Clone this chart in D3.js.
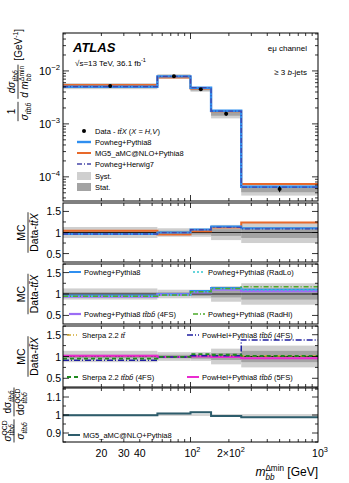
<!DOCTYPE html>
<html>
<head>
<meta charset="utf-8">
<script src="https://cdn.jsdelivr.net/npm/d3@7"></script>
<style>
body { margin: 0; background: #fff; }
text { font-family: "Liberation Sans", Arial, sans-serif; fill: #000; white-space: pre; }
</style>
</head>
<body>
<svg width="349" height="483"></svg>
<script>

// Binning and measured data
var binEdges = [10, 55, 100, 145, 250, 1000];
var dataVals = [5.2e-3, 7.9e-3, 4.5e-3, 1.55e-3, 5.9e-5];
var systRel  = [0.13, 0.10, 0.10, 0.18, 0.25];
var statRel  = [0.04, 0.04, 0.05, 0.08, 0.13];

// Main panel predictions
var powPy8Main = [5.02e-3, 7.9e-3, 4.82e-3, 1.77e-3, 6.5e-5];
var mg5Main    = [5.41e-3, 7.54e-3, 4.64e-3, 1.74e-3, 7.32e-5];
var powHw7Main = [5.04e-3, 7.86e-3, 4.82e-3, 1.74e-3, 6.4e-5];

// Ratio panel 1
var rPowPy8 = [0.965, 1.0, 1.07, 1.14, 1.10];
var rMg5    = [1.04, 0.955, 1.03, 1.12, 1.24];
var rPowHw7 = [0.965, 0.995, 1.065, 1.12, 1.085];

// Ratio panel 2
var rRadLo   = [0.95, 0.975, 1.05, 1.12, 1.095];
var rTtbb4fs = [0.937, 0.985, 1.04, 1.10, 1.065];
var rRadHi   = [0.95, 0.975, 1.055, 1.13, 1.17];

// Ratio panel 3
var rSherpaTt   = [1.01, 0.99, 1.02, 1.02, 1.01];
var rPowHel4fs  = [0.913, 0.99, 1.02, 1.02, 1.38];
var rSherpaTtbb = [0.95, 0.99, 1.055, 1.04, 1.015];
var rPowHel5fs  = [1.015, 0.99, 1.0, 0.99, 0.96];

// QCD-only ratio panel
var rQcd = [0.998, 1.008, 1.015, 0.994, 0.988];

var xTickLabels = [[20, "20"], [30, "30"], [40, "40"]];

var svg = d3.select("svg");
var L = 63, R = 318;
var x = d3.scaleLog().domain([10, 1000]).range([L, R]);

var panels = [
  {top: 33, bottom: 201},
  {top: 203, bottom: 262, dom: [0.3, 1.7]},
  {top: 264, bottom: 324, dom: [0.3, 1.7]},
  {top: 326, bottom: 387, dom: [0.3, 1.7]},
  {top: 388, bottom: 442, dom: [0.85, 1.15]}
];
var yMain = d3.scaleLog().domain([3.5e-5, 0.052]).range([panels[0].bottom, panels[0].top]);
panels.forEach(function(p, i) {
  p.y = i == 0 ? yMain : d3.scaleLinear().domain(p.dom).range([p.bottom, p.top]);
});

var cSyst = "#cfcfcf", cStat = "#a3a3a3";
var cBlue = "#2f8ff0", cOrange = "#e8692a", cHw = "#4545a8";

// helpers for text with sub/superscripts
function rich(parent, parts, fs) {
  var g = parent.append("g");
  var cx = 0, lastStart = 0;
  parts.forEach(function(p) {
    var start = p.stack ? lastStart : cx;
    var t = g.append("text")
      .attr("x", start).attr("y", p.dy || 0)
      .attr("font-size", (p.fs || 1) * fs)
      .attr("font-style", p.it ? "italic" : null)
      .attr("font-weight", p.b ? "bold" : null)
      .text(p.t);
    var w = t.node().getComputedTextLength();
    if (p.stack) cx = Math.max(cx, start + w);
    else { lastStart = start; cx = start + w; }
  });
  return {g: g, w: cx};
}
function place(r, px, py, anchor) {
  var off = anchor == "middle" ? -r.w / 2 : anchor == "end" ? -r.w : 0;
  r.g.attr("transform", "translate(" + (px + off) + "," + py + ")");
}
function frac(g, x0, num, den, fs, up, down) {
  var n = rich(g, num, fs), d = rich(g, den, fs);
  var w = Math.max(n.w, d.w) + 2;
  place(n, x0 + w / 2, -up, "middle");
  place(d, x0 + w / 2, down, "middle");
  g.append("line").attr("x1", x0).attr("x2", x0 + w).attr("y1", 0).attr("y2", 0)
    .attr("stroke", "#000").attr("stroke-width", 0.8);
  return w;
}
var sub = function(t, it) { return {t: t, fs: 0.68, dy: 3, it: it}; };
var sup = function(t) { return {t: t, fs: 0.68, dy: -4.5}; };
var TTBB = "tt\u0304bb\u0304";

function stepPts(vals) {
  var pts = vals.map(function(v, i) { return [binEdges[i], v]; });
  pts.push([binEdges[vals.length], vals[vals.length - 1]]);
  return pts;
}
function drawStep(p, vals, color, width, dash) {
  var line = d3.line().x(function(d) { return x(d[0]); }).y(function(d) { return p.y(d[1]); })
    .curve(d3.curveStepAfter);
  svg.append("path").datum(stepPts(vals)).attr("d", line)
    .attr("fill", "none").attr("stroke", color).attr("stroke-width", width)
    .attr("stroke-dasharray", dash || null);
}
function drawBands(p, center, rels, color) {
  svg.append("g").selectAll("rect").data(rels).enter().append("rect")
    .attr("x", function(d, i) { return x(binEdges[i]); })
    .attr("width", function(d, i) { return x(binEdges[i + 1]) - x(binEdges[i]); })
    .attr("y", function(d, i) { return p.y(center[i] * (1 + d)); })
    .attr("height", function(d, i) { return p.y(center[i] * (1 - d)) - p.y(center[i] * (1 + d)); })
    .attr("fill", color);
}
var ones = binEdges.slice(1).map(function() { return 1; });

function drawFrame(p, yMaj, yMin, xMajLen, xMinLen) {
  var g = svg.append("g").attr("stroke", "#000").attr("stroke-width", 0.8);
  var xMinors = [20, 30, 40, 50, 60, 70, 80, 90, 200, 300, 400, 500, 600, 700, 800, 900];
  xMinors.forEach(function(v) {
    g.append("line").attr("x1", x(v)).attr("x2", x(v)).attr("y1", p.bottom).attr("y2", p.bottom - xMinLen);
    g.append("line").attr("x1", x(v)).attr("x2", x(v)).attr("y1", p.top).attr("y2", p.top + xMinLen);
  });
  [100].forEach(function(v) {
    g.append("line").attr("x1", x(v)).attr("x2", x(v)).attr("y1", p.bottom).attr("y2", p.bottom - xMajLen);
    g.append("line").attr("x1", x(v)).attr("x2", x(v)).attr("y1", p.top).attr("y2", p.top + xMajLen);
  });
  yMaj.forEach(function(v) {
    g.append("line").attr("x1", L).attr("x2", L + 6).attr("y1", p.y(v)).attr("y2", p.y(v));
    g.append("line").attr("x1", R).attr("x2", R - 6).attr("y1", p.y(v)).attr("y2", p.y(v));
  });
  yMin.forEach(function(v) {
    g.append("line").attr("x1", L).attr("x2", L + 3).attr("y1", p.y(v)).attr("y2", p.y(v));
    g.append("line").attr("x1", R).attr("x2", R - 3).attr("y1", p.y(v)).attr("y2", p.y(v));
  });
  svg.append("rect").attr("x", L).attr("y", p.top).attr("width", R - L).attr("height", p.bottom - p.top)
    .attr("fill", "none").attr("stroke", "#000").attr("stroke-width", 1);
}

// ---------- main panel ----------
var P0 = panels[0];
drawBands(P0, dataVals, systRel, cSyst);
drawBands(P0, dataVals, statRel, cStat);
drawStep(P0, mg5Main, cOrange, 2);
drawStep(P0, powPy8Main, cBlue, 2.4);
drawStep(P0, powHw7Main, cHw, 1.3, "5,2,1,2");
svg.append("g").selectAll("line").data(dataVals).enter().append("line")
  .attr("x1", function(d, i) { return x(Math.sqrt(binEdges[i] * binEdges[i + 1])); })
  .attr("x2", function(d, i) { return x(Math.sqrt(binEdges[i] * binEdges[i + 1])); })
  .attr("y1", function(d, i) { return yMain(d * (1 - statRel[i])); })
  .attr("y2", function(d, i) { return yMain(d * (1 + statRel[i])); })
  .attr("stroke", "#000").attr("stroke-width", 1);
svg.append("g").selectAll("circle").data(dataVals).enter().append("circle")
  .attr("cx", function(d, i) { return x(Math.sqrt(binEdges[i] * binEdges[i + 1])); })
  .attr("cy", function(d) { return yMain(d); })
  .attr("r", 2).attr("fill", "#000");

var mainMinor = [];
[-5, -4, -3, -2].forEach(function(e) {
  for (var k = 2; k <= 9; k++) {
    var v = k * Math.pow(10, e);
    if (v > 3.5e-5 && v < 0.052) mainMinor.push(v);
  }
});
drawFrame(P0, [1e-4, 1e-3, 1e-2], mainMinor, 6, 3);
[[1e-2, "\u22122"], [1e-3, "\u22123"], [1e-4, "\u22124"]].forEach(function(t) {
  var r = rich(svg, [{t: "10"}, {t: t[1], fs: 0.7, dy: -5}], 11);
  place(r, 60, yMain(t[0]) + 4, "end");
});

// labels inside main panel
place(rich(svg, [{t: "ATLAS", b: true, it: true}], 13), 73, 52, "start");
place(rich(svg, [{t: "\u221As=13 TeV, 36.1 fb"}, {t: "-1", fs: 0.7, dy: -4}], 8), 75, 66, "start");
place(rich(svg, [{t: "e\u03BC channel"}], 8), 307, 51, "end");
place(rich(svg, [{t: "\u2265 3 "}, {t: "b", it: true}, {t: "-jets"}], 8), 307, 75, "end");

// main legend
var lgY = [131, 142, 153, 164, 176, 187];
svg.append("circle").attr("cx", 84).attr("cy", lgY[0]).attr("r", 2).attr("fill", "#000");
place(rich(svg, [{t: "Data - "}, {t: "tt\u0304X", it: true}, {t: " ("}, {t: "X", it: true}, {t: " = "}, {t: "H,V", it: true}, {t: ")"}], 7.5), 95, lgY[0] + 3, "start");
[[cBlue, 2.4, null, "Powheg+Pythia8"], [cOrange, 2, null, "MG5_aMC@NLO+Pythia8"], [cHw, 1.3, "5,2,1,2", "Powheg+Herwig7"]]
  .forEach(function(e, i) {
    svg.append("line").attr("x1", 77).attr("x2", 91).attr("y1", lgY[i + 1]).attr("y2", lgY[i + 1])
      .attr("stroke", e[0]).attr("stroke-width", e[1]).attr("stroke-dasharray", e[2]);
    place(rich(svg, [{t: e[3]}], 7.5), 95, lgY[i + 1] + 3, "start");
  });
[[cSyst, "Syst."], [cStat, "Stat."]].forEach(function(e, i) {
  svg.append("rect").attr("x", 77).attr("y", lgY[i + 4] - 4).attr("width", 14).attr("height", 8).attr("fill", e[0]);
  place(rich(svg, [{t: e[1]}], 7.5), 95, lgY[i + 4] + 3, "start");
});

// ---------- ratio panels ----------
var ratioMaj = [0.5, 1, 1.5], ratioMin = [0.25, 0.75, 1.25];
function ratioBase(p) {
  drawBands(p, ones, systRel, cSyst);
  drawBands(p, ones, statRel, cStat);
  svg.append("line").attr("x1", L).attr("x2", R).attr("y1", p.y(1)).attr("y2", p.y(1))
    .attr("stroke", "#000").attr("stroke-width", 0.8);
}
function ratioLabels(p, ticks) {
  ticks.forEach(function(t) {
    place(rich(svg, [{t: t}], 10.5), 61, p.y(+t) + 4, "end");
  });
}
function legendEntry(p, x0, yy, color, w, dash, parts) {
  svg.append("line").attr("x1", x0).attr("x2", x0 + 12).attr("y1", yy).attr("y2", yy)
    .attr("stroke", color).attr("stroke-width", w).attr("stroke-dasharray", dash);
  place(rich(svg, parts, 7.5), x0 + 15, yy + 3, "start");
}

var P1 = panels[1];
ratioBase(P1);
drawStep(P1, rMg5, cOrange, 2);
drawStep(P1, rPowPy8, cBlue, 2);
drawStep(P1, rPowHw7, cHw, 1.3, "5,2,1,2");
drawFrame(P1, ratioMaj, ratioMin, 5, 3);
ratioLabels(P1, ["0.5", "1", "1.5"]);

var P2 = panels[2];
ratioBase(P2);
drawStep(P2, rPowPy8, cBlue, 2);
drawStep(P2, rTtbb4fs, "#9b6cf5", 2.2);
drawStep(P2, rRadLo, "#35c8cf", 1.5, "2,2");
drawStep(P2, rRadHi, "#4bab28", 1.5, "5,2,1,2");
drawFrame(P2, ratioMaj, ratioMin, 5, 3);
ratioLabels(P2, ["0.5", "1", "1.5"]);
legendEntry(P2, 69, 272, cBlue, 2, null, [{t: "Powheg+Pythia8"}]);
legendEntry(P2, 193, 272, "#35c8cf", 1.5, "2,2", [{t: "Powheg+Pythia8 (RadLo)"}]);
legendEntry(P2, 69, 314, "#9b6cf5", 2.2, null, [{t: "Powheg+Pythia8 "}, {t: TTBB, it: true}, {t: " (4FS)"}]);
legendEntry(P2, 193, 314, "#4bab28", 1.5, "5,2,1,2", [{t: "Powheg+Pythia8 (RadHi)"}]);

var P3 = panels[3];
ratioBase(P3);
drawStep(P3, rSherpaTt, "#d2a932", 1.5, "4,2,1,2,1,2");
drawStep(P3, rPowHel5fs, "#ea2bd0", 2);
drawStep(P3, rPowHel4fs, "#1e1ea0", 1.5, "6,2,1,2");
drawStep(P3, rSherpaTtbb, "#1f8a1f", 1.8, "4,3");
drawFrame(P3, ratioMaj, ratioMin, 5, 3);
ratioLabels(P3, ["0.5", "1", "1.5"]);
legendEntry(P3, 67, 335, "#d2a932", 1.5, "4,2,1,2,1,2", [{t: "Sherpa 2.2 "}, {t: "tt\u0304", it: true}]);
legendEntry(P3, 187, 335, "#1e1ea0", 1.5, "6,2,1,2", [{t: "PowHel+Pythia8 "}, {t: TTBB, it: true}, {t: " (4FS)"}]);
legendEntry(P3, 67, 377, "#1f8a1f", 1.8, "4,3", [{t: "Sherpa 2.2 "}, {t: TTBB, it: true}, {t: " (4FS)"}]);
legendEntry(P3, 187, 377, "#ea2bd0", 2, null, [{t: "PowHel+Pythia8 "}, {t: TTBB, it: true}, {t: " (5FS)"}]);

var P4 = panels[4];
drawBands(P4, rQcd, [0.004, 0.004, 0.004, 0.004, 0.004], "#c4c4c4");
svg.append("line").attr("x1", L).attr("x2", R).attr("y1", P4.y(1)).attr("y2", P4.y(1))
  .attr("stroke", "#999").attr("stroke-width", 0.8);
drawStep(P4, rQcd, "#2e5d6c", 2);
drawFrame(P4, [0.9, 1, 1.1], [0.85, 0.95, 1.05, 1.15], 5, 3);
ratioLabels(P4, ["0.9", "1", "1.1"]);
legendEntry(P4, 68, 435, "#2e5d6c", 2, null, [{t: "MG5_aMC@NLO+Pythia8"}]);

// ---------- x axis labels ----------
xTickLabels.forEach(function(t) {
  place(rich(svg, [{t: t[1]}], 10.5), x(t[0]), 457, "middle");
});
place(rich(svg, [{t: "10"}, {t: "2", fs: 0.7, dy: -5}], 10.5), x(100) + 2, 457, "middle");
place(rich(svg, [{t: "2\u00D710"}, {t: "2", fs: 0.7, dy: -5}], 10.5), x(200) + 2, 457, "middle");
place(rich(svg, [{t: "10"}, {t: "3", fs: 0.7, dy: -5}], 10.5), x(1000) + 2, 457, "middle");
place(rich(svg, [{t: "m", it: true}, {t: "\u0394min", fs: 0.68, dy: -5}, {t: "bb", fs: 0.68, dy: 3.5, it: true, stack: true}, {t: " [GeV]"}], 12), R, 476, "end");

// ---------- y axis titles ----------
function rotTitle(colX, anchorY, mode, build) {
  var outer = svg.append("g");
  var inner = outer.append("g");
  var w = build(inner);
  var y0 = mode == "top" ? anchorY + w : anchorY + w / 2;
  outer.attr("transform", "translate(" + colX + "," + y0 + ") rotate(-90)");
}
rotTitle(18, 29, "top", function(g) {
  var fs = 10;
  var w1 = frac(g, 0, [{t: "1"}], [{t: "\u03C3", it: true}, sub(TTBB, true)], fs, 3, 10);
  var w2 = frac(g, w1 + 3, [{t: "d\u03C3", it: true}, sub(TTBB, true)],
    [{t: "d ", it: true}, {t: "m", it: true}, sup("\u0394min"), {t: "bb", fs: 0.68, dy: 3, it: true, stack: true}], fs, 3, 10);
  var r = rich(g, [{t: "[GeV"}, sup("-1"), {t: "]"}], fs);
  place(r, w1 + w2 + 7, 4, "start");
  return w1 + w2 + 7 + r.w;
});
[P1, P2, P3].forEach(function(p) {
  rotTitle(28, (p.top + p.bottom) / 2, "mid", function(g) {
    return frac(g, 0, [{t: "MC"}], [{t: "Data-"}, {t: "tt\u0304X", it: true}], 10.5, 3, 10);
  });
});
rotTitle(14, (P4.top + P4.bottom) / 2, "mid", function(g) {
  var fs = 10;
  var w1 = frac(g, 0, [{t: "\u03C3", it: true}, sup("QCD"), {t: TTBB, fs: 0.68, dy: 3, it: true, stack: true}],
    [{t: "\u03C3", it: true}, sub(TTBB, true)], fs, 3, 10);
  var w2 = frac(g, w1 + 3, [{t: "d\u03C3"}, sub(TTBB, true)],
    [{t: "d\u03C3"}, sup("QCD"), {t: TTBB, fs: 0.68, dy: 3, it: true, stack: true}], fs, 3, 10);
  return w1 + w2 + 3;
});

</script>
</body>
</html>
